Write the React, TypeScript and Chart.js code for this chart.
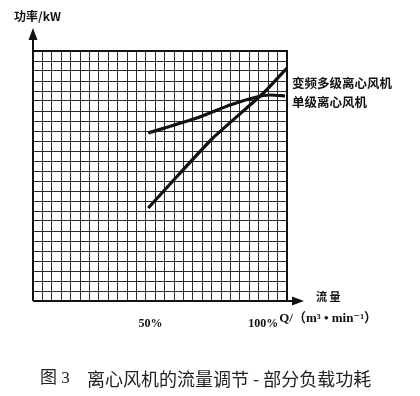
import React, { useEffect, useRef } from "react";
import { Chart, registerables } from "chart.js";

Chart.register(...registerables);

// Flow in % of rated flow, power in grid units
const variableFlow = [49, 61, 76.5, 98, 108];
const variablePower = [9.3, 12.4, 16.3, 20.8, 23.3];
const singleFlow = [49, 69.6, 83.8, 95.1, 100.8, 107.2];
const singlePower = [16.8, 18.3, 19.6, 20.4, 20.6, 20.5];

const flowTickLabels = ["50%", "100%"];
const flowTickValues = [50, 100];
const seriesNames = ["变频多级离心风机", "单级离心风机"];

const yTitle = "功率/kW";
const xTitle = "流 量";
const xUnit = "Q/（m³ • min⁻¹）";
const caption = "离心风机的流量调节 - 部分负载功耗";
const figNo = "图 3";

const SERIF = '"Liberation Serif", "DejaVu Serif", "Noto Sans CJK SC", serif';
const CJK = '"Noto Sans CJK SC", "Liberation Serif", sans-serif';

const decorPlugin = {
  id: "decor",
  afterDraw(chart: any) {
    const { ctx, chartArea } = chart;
    const { left, right, top, bottom } = chartArea;
    const xs = chart.scales.x;
    ctx.save();
    ctx.strokeStyle = "#111";
    ctx.fillStyle = "#111";
    ctx.lineWidth = 2;
    // frame and axes
    ctx.beginPath();
    ctx.moveTo(left, bottom);
    ctx.lineTo(left, top - 12);
    ctx.moveTo(left, bottom);
    ctx.lineTo(right + 8, bottom);
    ctx.moveTo(left, top);
    ctx.lineTo(right, top);
    ctx.lineTo(right, bottom);
    ctx.stroke();
    // arrows
    ctx.beginPath();
    ctx.moveTo(left, top - 23);
    ctx.lineTo(left - 4.5, top - 11);
    ctx.lineTo(left + 4.5, top - 11);
    ctx.closePath();
    ctx.fill();
    ctx.beginPath();
    ctx.moveTo(right + 17, bottom);
    ctx.lineTo(right + 5, bottom - 4.5);
    ctx.lineTo(right + 5, bottom + 4.5);
    ctx.closePath();
    ctx.fill();

    // axis titles
    ctx.textBaseline = "middle";
    ctx.textAlign = "left";
    ctx.font = "bold 12px " + CJK;
    ctx.fillText(yTitle, 14, 16);
    ctx.font = "bold 11px " + CJK;
    ctx.fillText(xTitle, right + 29, bottom - 4);

    // flow tick labels
    ctx.font = "bold 12px " + SERIF;
    ctx.textBaseline = "alphabetic";
    ctx.textAlign = "center";
    ctx.fillText(flowTickLabels[0], xs.getPixelForValue(flowTickValues[0]), bottom + 26);
    ctx.textAlign = "right";
    ctx.fillText(flowTickLabels[1], xs.getPixelForValue(flowTickValues[1]) + 10, bottom + 26);
    ctx.textAlign = "left";
    ctx.font = "bold 13px " + SERIF;
    ctx.fillText(xUnit, xs.getPixelForValue(flowTickValues[1]) + 11, bottom + 21);

    // series labels
    ctx.font = "bold 12.5px " + CJK;
    ctx.textBaseline = "middle";
    ctx.fillText(seriesNames[0], right + 5, 83);
    ctx.fillText(seriesNames[1], right + 5, 102);

    // caption
    ctx.font = "17px " + SERIF;
    ctx.fillStyle = "#222";
    ctx.fillText(figNo, 40, 379);
    ctx.font = "18px " + CJK;
    ctx.fillText(caption, 87, 379);
    ctx.restore();
  },
};

export default function App() {
  const ref = useRef<HTMLCanvasElement>(null);
  useEffect(() => {
    if (!ref.current) return;
    const chart = new Chart(ref.current, {
      type: "line",
      data: {
        datasets: [
          {
            label: seriesNames[0],
            data: variableFlow.map((x, i) => ({ x, y: variablePower[i] })),
            borderColor: "#111",
            borderWidth: 3.2,
            pointRadius: 0,
            tension: 0.15,
          },
          {
            label: seriesNames[1],
            data: singleFlow.map((x, i) => ({ x, y: singlePower[i] })),
            borderColor: "#111",
            borderWidth: 3.2,
            pointRadius: 0,
            tension: 0.2,
          },
        ],
      },
      options: {
        responsive: false,
        animation: false,
        layout: { padding: { left: 33, top: 51, right: 133, bottom: 95 } },
        plugins: { legend: { display: false }, tooltip: { enabled: false } },
        scales: {
          x: {
            type: "linear",
            min: 0,
            max: 108,
            ticks: { display: false, stepSize: 4 },
            grid: { color: "#2a2a2a", lineWidth: 1, drawTicks: false },
            border: { display: false },
          },
          y: {
            type: "linear",
            min: 0,
            max: 25,
            ticks: { display: false, stepSize: 1 },
            grid: { color: "#2a2a2a", lineWidth: 1, drawTicks: false },
            border: { display: false },
          },
        },
      },
      plugins: [decorPlugin],
    });
    return () => chart.destroy();
  }, []);
  return (
    <div style={{ position: "absolute", left: 0, top: 0, width: 420, height: 396, background: "#fff" }}>
      <canvas ref={ref} width={420} height={396} />
    </div>
  );
}
